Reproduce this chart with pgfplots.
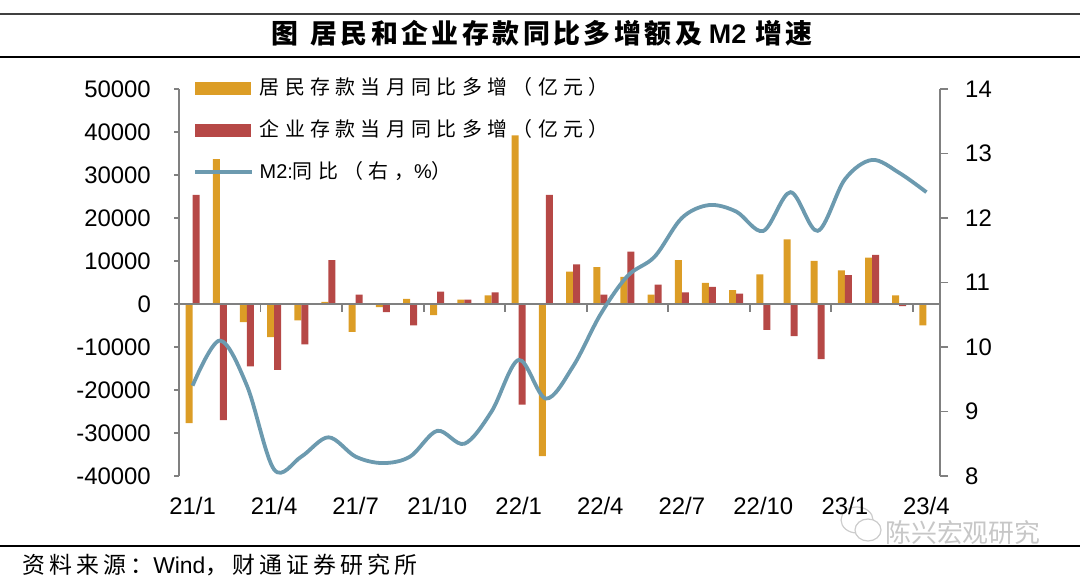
\documentclass[border=0pt]{standalone}
\usepackage{fontspec}
\setmainfont{Liberation Sans}
\newfontfamily\cjk{Noto Sans CJK SC}
\newfontfamily\cjkls[LetterSpace=27]{Noto Sans CJK SC}
\newfontfamily\cjksrc[LetterSpace=18]{Noto Sans CJK SC}
\newfontfamily\cjkt[LetterSpace=13]{Noto Sans CJK SC Bold}
\usepackage{pgfplots}
\pgfplotsset{compat=1.18}
\definecolor{hh}{RGB}{220,157,38}
\definecolor{co}{RGB}{182,72,70}
\definecolor{m2}{RGB}{108,154,175}
\definecolor{ax}{RGB}{128,128,128}
\begin{document}
\begin{tikzpicture}[x=1bp,y=1bp]
\path[use as bounding box] (0,0) rectangle (1080,580);
% rules and title
\draw[black!75, line width=1.6bp] (0,566) -- (1080,566);
\draw[black, line width=1.3bp] (0,523) -- (1080,523);
\node[font=\fontsize{27}{30}\selectfont\bfseries] at (542,547) {{\cjkt 图}\hspace{12bp}{\cjkt 居民和企业存款同比多增额及}\hspace{7bp}M2\hspace{9bp}{\cjkt 增速}};
\draw[black, line width=1.1bp] (0,34) -- (1080,34);
\node[anchor=base west, inner sep=0pt, font=\fontsize{23}{26}\selectfont] at (22,6) {{\cjksrc 资料来源：}Wind{\cjksrc ，财通证券研究所}};
% watermark
\node[anchor=base west, inner sep=0pt, text=black!22, font=\fontsize{26}{30}\selectfont] at (885,37) {\cjk 陈兴宏观研究};
\draw[black!20, line width=1.2bp] (857,60) ellipse (16 and 13);
\draw[black!20, line width=1.2bp, fill=white] (868,50) ellipse (13 and 11);

\begin{axis}[
  scale only axis, width=761bp, height=387bp,
  at={(179bp,104bp)}, anchor=south west,
  xmin=-0.5, xmax=27.5, ymin=-40000, ymax=50000,
  axis y line*=left, axis x line*=bottom,
  x axis line style={draw=none},
  y axis line style={-, draw=ax, line width=1.6bp},
  ytick={-40000,-30000,-20000,-10000,0,10000,20000,30000,40000,50000},
  scaled y ticks=false,
  /pgf/number format/fixed, /pgf/number format/1000 sep={},
  /pgf/number format/assume math mode=true,
  ytick style={draw=ax, line width=1.6bp},
  major tick length=5bp,
  tick align=outside,
  xtick={0,3,6,9,12,15,18,21,24,27},
  xticklabels={21/1,21/4,21/7,21/10,22/1,22/4,22/7,22/10,23/1,23/4},
  x tick style={draw=none},
  tick label style={font=\fontsize{24}{26}\selectfont, inner sep=0pt},
  yticklabel style={anchor=east, xshift=-23bp},
  xticklabel style={anchor=north, yshift=-16bp, text height=17bp, text depth=0pt},
  ybar=0pt, bar width=7bp,
  clip=false,
]
\addplot[fill=hh, draw=none] coordinates {
(0,-27700) (1,33700) (2,-4200) (3,-7700) (4,-3800) (5,500) (6,-6500) (7,-700)
(8,1200) (9,-2600) (10,1000) (11,2000) (12,39200) (13,-35400) (14,7500) (15,8600)
(16,6300) (17,2200) (18,10200) (19,4900) (20,3200) (21,6900) (22,15000) (23,10000)
(24,7800) (25,10800) (26,2000) (27,-5000)};
\addplot[fill=co, draw=none] coordinates {
(0,25400) (1,-27000) (2,-14500) (3,-15300) (4,-9400) (5,10200) (6,2200) (7,-1900)
(8,-5000) (9,2900) (10,1000) (11,2700) (12,-23400) (13,25400) (14,9200) (15,2200)
(16,12200) (17,4500) (18,2700) (19,4000) (20,2400) (21,-6000) (22,-7500) (23,-12800)
(24,6700) (25,11400) (26,-500) (27,0)};
\end{axis}

% zero line with boundary ticks
\begin{axis}[
  scale only axis, width=761bp, height=387bp,
  at={(179bp,104bp)}, anchor=south west,
  xmin=-0.5, xmax=27.5, ymin=-40000, ymax=50000,
  axis x line=middle, axis y line=none,
  x axis line style={-, draw=ax, line width=1.6bp},
  xtick={2.5,5.5,8.5,11.5,14.5,17.5,20.5,23.5,26.5},
  xticklabels={},
  every tick/.style={draw=ax, line width=1.8bp},
  tick align=outside,
  major tick length=8bp,
]
\end{axis}

\begin{axis}[
  scale only axis, width=761bp, height=387bp,
  at={(179bp,104bp)}, anchor=south west,
  xmin=-0.5, xmax=27.5, ymin=8, ymax=14,
  axis y line*=right, axis x line=none,
  y axis line style={-, draw=ax, line width=1.6bp},
  ytick={8,9,10,11,12,13,14},
  /pgf/number format/assume math mode=true,
  ytick style={draw=ax, line width=1.6bp},
  major tick length=8bp,
  tick align=outside,
  tick label style={font=\fontsize{24}{26}\selectfont, inner sep=0pt},
  yticklabel style={anchor=west, xshift=17bp},
  clip=false,
  legend style={at={(0.0184,1.024)}, anchor=north west, draw=none, fill=none,
    inner sep=0pt, row sep=23bp, column sep=5bp,
    nodes={inner sep=0pt, anchor=base west, text height=15bp, text depth=4bp,
      font=\fontsize{20}{22}\selectfont}},
  legend cell align=left,
]
\addlegendimage{legend image code/.code={\fill[hh] (0bp,1bp) rectangle (55bp,13bp);}}
\addlegendentry{\cjkls 居民存款当月同比多增（亿元）}
\addlegendimage{legend image code/.code={\fill[co] (0bp,1bp) rectangle (55bp,13bp);}}
\addlegendentry{\cjkls 企业存款当月同比多增（亿元）}
\addplot[m2, line width=3.8bp, smooth, tension=0.55,
  legend image code/.code={\draw[m2, line width=4.5bp] (0bp,7bp) -- (57bp,7bp);}] coordinates {
(0,9.4) (1,10.1) (2,9.4) (3,8.1) (4,8.3) (5,8.6) (6,8.3) (7,8.2) (8,8.3) (9,8.7)
(10,8.5) (11,9.0) (12,9.8) (13,9.2) (14,9.7) (15,10.5) (16,11.1) (17,11.4) (18,12.0)
(19,12.2) (20,12.1) (21,11.8) (22,12.4) (23,11.8) (24,12.6) (25,12.9) (26,12.7) (27,12.4)};
\addlegendentry{M2:{\cjkls 同比（右，}\%{\cjkls ）}}
\end{axis}
\end{tikzpicture}
\end{document}
